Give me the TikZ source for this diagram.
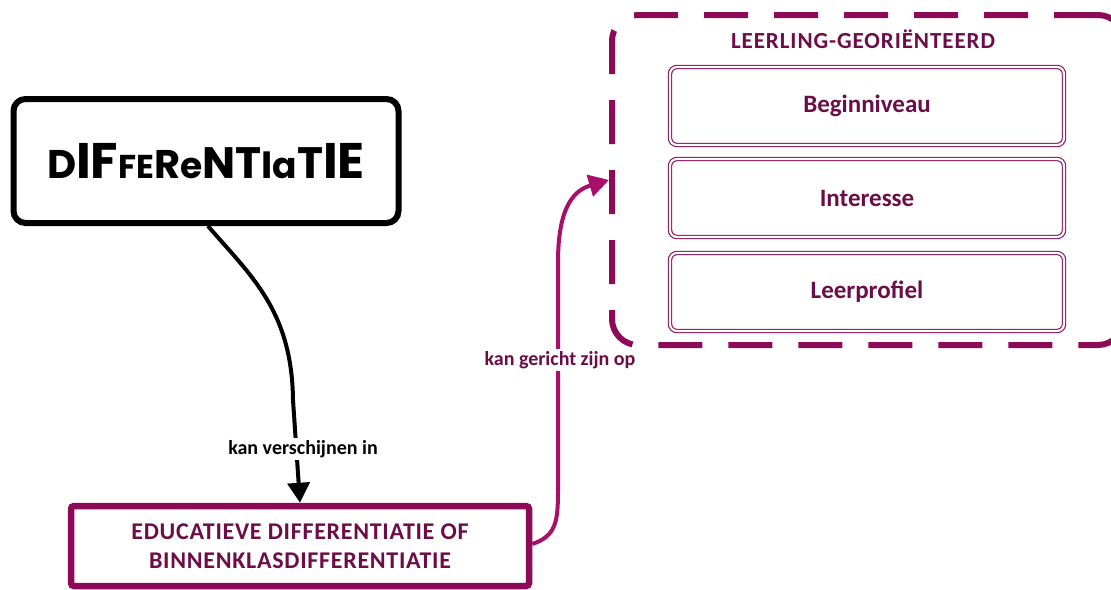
\documentclass[tikz,border=0pt]{standalone}
\usepackage{fontspec}
\setmainfont{Carlito}
\newfontfamily\titlefont{Poppins}
\usetikzlibrary{arrows.meta,positioning}
\definecolor{plum}{HTML}{6D0D47}
\definecolor{plumline}{HTML}{8C0A58}
\definecolor{magentaline}{HTML}{A80F6B}
\tikzset{
  titlebox/.style={draw=black, line width=6pt, rounded corners=12pt, fill=white,
    minimum width=385pt, minimum height=124pt, inner sep=0pt},
  edubox/.style={draw=plumline, line width=6.5pt, rounded corners=3pt, fill=white,
    minimum width=458pt, minimum height=80pt, align=center, text=plum,
    font=\bfseries\fontsize{24}{29}\selectfont\addfontfeature{LetterSpace=3}, inner sep=0pt},
  groupbox/.style={draw=plumline, line width=6pt, rounded corners=26pt,
    dash pattern=on 44pt off 26pt, minimum width=512pt, minimum height=330pt, inner sep=0pt},
  itembox/.style={draw=plumline, line width=1.1pt, double=white, double distance=2.2pt,
    rounded corners=7pt, minimum width=394pt, minimum height=78pt, text=plum,
    font=\bfseries\fontsize{25}{28}\selectfont, inner sep=0pt},
  grouplabel/.style={text=plum, font=\bfseries\fontsize{23}{26}\selectfont\addfontfeature{LetterSpace=4}},
  linklabel/.style={fill=white, inner sep=2pt, font=\bfseries\fontsize{20}{22}\selectfont},
  blackarrow/.style={draw=black, line width=4pt,
    -{Triangle[length=20pt, width=22pt]}},
  plumarrow/.style={draw=magentaline, line width=4pt,
    -{Triangle[length=20pt, width=22pt]}},
}
\begin{document}
\begin{tikzpicture}[x=1pt, y=-1pt]
\useasboundingbox (0,0) rectangle (1111,589);

% main concept
\node[titlebox] (title) at (206,161) {\titlefont\bfseries
  {\fontsize{40}{40}\selectfont D}{\fontsize{50}{50}\selectfont IF}{\fontsize{33}{33}\selectfont FE}{\fontsize{40}{40}\selectfont R}{\fontsize{36}{36}\selectfont e}{\fontsize{44}{44}\selectfont NT}{\fontsize{38}{38}\selectfont I}{\fontsize{36}{36}\selectfont a}{\fontsize{44}{44}\selectfont T}{\fontsize{50}{50}\selectfont IE}};

% educational differentiation
\node[edubox] (edu) at (300,546) {EDUCATIEVE DIFFERENTIATIE OF\\BINNENKLASDIFFERENTIATIE};

% learner-oriented group
\node[groupbox] (grp) at (868,180) {};
\node[grouplabel] (grptitle) at (863,39) {LEERLING-GEORIËNTEERD};
\node[itembox] (lvl) at (867,106) {Beginniveau};
\node[itembox] (int) at (867,198) {Interesse};
\node[itembox] (prof) at (867,292) {Leerprofiel};

% connectors
\draw[blackarrow] ([xshift=2pt]title.south) .. controls (250,275) and (292,310) .. (293,400) -- (edu.north);
\node[linklabel] (lbla) at (303,449) {kan verschijnen in};

\draw[plumarrow] ([yshift=2pt]edu.east) .. controls (556,536) and (558,522) .. (558,490)
  -- (558,262) .. controls (558,205) and (575,190) .. (grp.west);
\node[linklabel, text=plum] (lblb) at (560,360) {kan gericht zijn op};
\end{tikzpicture}
\end{document}
